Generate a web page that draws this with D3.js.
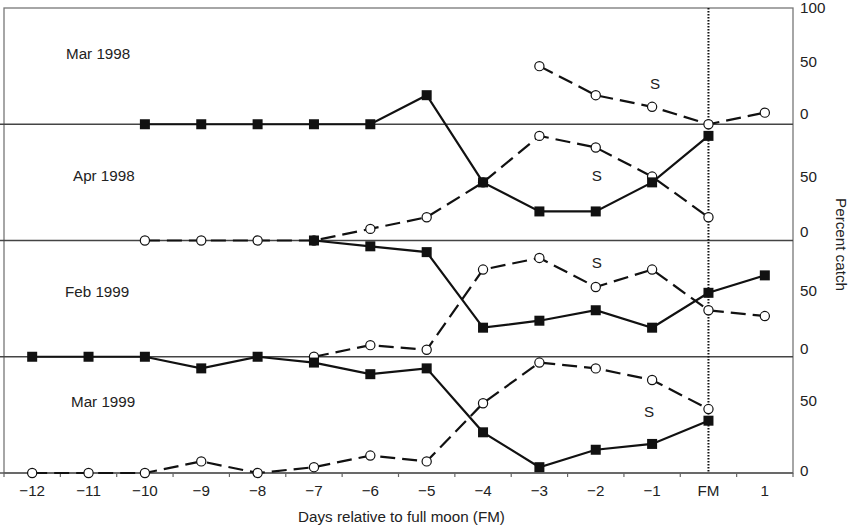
<!DOCTYPE html>
<html>
<head>
<meta charset="utf-8">
<script src="https://cdn.jsdelivr.net/npm/d3@7/dist/d3.min.js"></script>
<style>
  html, body { margin: 0; padding: 0; background: #fff; }
  svg { display: block; }
  text { font-family: "Liberation Sans", Arial, Helvetica, sans-serif; fill: #222; }
</style>
</head>
<body>
<svg id="chart" width="850" height="527"></svg>
<script>
// ---- data ----
const dayLabels = ["\u221212","\u221211","\u221210","\u22129","\u22128","\u22127","\u22126","\u22125","\u22124","\u22123","\u22122","\u22121","FM","1"];
const panelNames = ["Mar 1998", "Apr 1998", "Feb 1999", "Mar 1999"];

// percent catch per day (null = no sample)
const mar98Solid = [null,null,null,null,null,null,null,null,null,null,null,null,null,null];
const mar98Open  = [null,null,null,null,null,null,null,null,null,50,25,15,0,10];
const apr98Solid = [null,null,100,100,100,100,100,125,50,25,25,50,90,null];
const apr98Open  = [null,null,0,0,0,0,10,20,50,90,80,55,20,null];
const feb99Solid = [null,null,null,null,null,100,95,90,25,31,40,25,55,70];
const feb99Open  = [null,null,null,null,null,0,10,6,75,85,60,75,40,35];
const mar99Solid = [100,100,100,90,100,95,85,90,35,5,20,25,45,null];
const mar99Open  = [0,0,0,10,0,5,15,10,60,95,90,80,55,null];

const solidSeries = [mar98Solid, apr98Solid, feb99Solid, mar99Solid];
const openSeries  = [mar98Open, apr98Open, feb99Open, mar99Open];

const rightTicks = [[0, 50, 100], [0, 50], [0, 50], [0, 50]];
const fullMoonLabel = "FM";

// ---- layout (positions / styles) ----
const FS = "15.2px";
const frame = { left: 4, right: 793, top: 8, bottom: 473 };
const panelH = (frame.bottom - frame.top) / panelNames.length;
const nameLabelPos = [[66, 47], [73, 53], [65, 52], [71, 46]];   // offsets from panel top-left
const sAnnot = [{ day: "\u22121", v: 34, dx: 3 }, { day: "\u22122", v: 55, dx: 1 }, { day: "\u22122", v: 80, dx: 1 }, { day: "\u22121", v: 52, dx: -3 }];
const tickNudge = [[-9, -3, 1], [-8, -4], [-7, -7], [-1, -13]];

const svg = d3.select("#chart");

const x = d3.scaleBand().domain(dayLabels).range([frame.left, frame.right]).padding(0);
const cx = d => x(d) + x.bandwidth() / 2;

const yScales = panelNames.map((_, i) =>
  d3.scaleLinear().domain([0, 100]).range([frame.top + (i + 1) * panelH, frame.top + i * panelH]));

// frame
svg.append("rect")
  .attr("x", frame.left).attr("y", frame.top)
  .attr("width", frame.right - frame.left).attr("height", frame.bottom - frame.top)
  .attr("fill", "none").attr("stroke", "#777").attr("stroke-width", 1.3);

// panel dividers
for (let i = 1; i < panelNames.length; i++) {
  const yy = yScales[i](100);
  svg.append("line")
    .attr("x1", 0).attr("x2", frame.right)
    .attr("y1", yy).attr("y2", yy)
    .attr("stroke", "#444").attr("stroke-width", 1.5);
}
// bottom axis baseline
svg.append("line")
  .attr("x1", 0).attr("x2", frame.right)
  .attr("y1", frame.bottom).attr("y2", frame.bottom)
  .attr("stroke", "#555").attr("stroke-width", 1.5);

// bottom ticks at band boundaries
const boundaries = dayLabels.map(d => x(d)).concat([frame.right]);
svg.append("g").selectAll("line").data(boundaries).join("line")
  .attr("x1", d => d).attr("x2", d => d)
  .attr("y1", frame.bottom).attr("y2", frame.bottom + 4)
  .attr("stroke", "#666").attr("stroke-width", 1.2);

// bottom axis labels
const xAxis = svg.append("g")
  .attr("transform", `translate(0,${frame.bottom})`)
  .call(d3.axisBottom(x).tickSize(0).tickPadding(12));
xAxis.select(".domain").remove();
xAxis.selectAll("text")
  .style("font-family", '"Liberation Sans", Arial, sans-serif')
  .style("font-size", FS).attr("fill", "#222");

// full moon dotted line
svg.append("line")
  .attr("x1", cx(fullMoonLabel)).attr("x2", cx(fullMoonLabel))
  .attr("y1", frame.top).attr("y2", frame.bottom)
  .attr("stroke", "#111").attr("stroke-width", 2)
  .attr("stroke-dasharray", "1.6,1.4");

// series
panelNames.forEach((name, i) => {
  const y = yScales[i];
  const g = svg.append("g");
  const toPts = arr => arr.map((v, k) => ({ d: dayLabels[k], v }));
  const line = d3.line().defined(p => p.v != null).x(p => cx(p.d)).y(p => y(p.v));

  const open = toPts(openSeries[i]);
  const solid = toPts(solidSeries[i]);

  g.append("path").datum(open)
    .attr("d", line).attr("fill", "none")
    .attr("stroke", "#111").attr("stroke-width", 2.2)
    .attr("stroke-dasharray", "15,7");

  g.append("path").datum(solid)
    .attr("d", line).attr("fill", "none")
    .attr("stroke", "#111").attr("stroke-width", 2.2);

  g.selectAll("circle").data(open.filter(p => p.v != null)).join("circle")
    .attr("cx", p => cx(p.d)).attr("cy", p => y(p.v)).attr("r", 4.6)
    .attr("fill", "#fff").attr("stroke", "#111").attr("stroke-width", 1.2);

  const s = 10;
  g.selectAll("rect").data(solid.filter(p => p.v != null)).join("rect")
    .attr("x", p => cx(p.d) - s / 2).attr("y", p => y(p.v) - s / 2)
    .attr("width", s).attr("height", s).attr("fill", "#111");

  // panel name
  svg.append("text")
    .attr("x", nameLabelPos[i][0]).attr("y", y(100) + nameLabelPos[i][1])
    .attr("dominant-baseline", "middle")
    .style("font-size", FS).text(name);

  // S annotation
  svg.append("text")
    .attr("x", cx(sAnnot[i].day) + sAnnot[i].dx).attr("y", y(sAnnot[i].v))
    .attr("text-anchor", "middle").attr("dominant-baseline", "middle")
    .style("font-size", FS).text("S");

  // right tick labels
  svg.append("g").selectAll("text").data(rightTicks[i]).join("text")
    .attr("x", 800).attr("y", (v, k) => y(v) + tickNudge[i][k])
    .attr("dominant-baseline", "middle")
    .style("font-size", FS).text(v => v);
});

// axis titles
svg.append("text")
  .attr("x", (frame.left + frame.right) / 2 + 3).attr("y", 518)
  .attr("text-anchor", "middle").attr("dominant-baseline", "middle")
  .style("font-size", FS).text("Days relative to full moon (FM)");

svg.append("text")
  .attr("transform", `translate(840,${(frame.top + frame.bottom) / 2 + 4}) rotate(90)`)
  .attr("text-anchor", "middle").attr("dominant-baseline", "middle")
  .style("font-size", FS).text("Percent catch");
</script>
</body>
</html>
